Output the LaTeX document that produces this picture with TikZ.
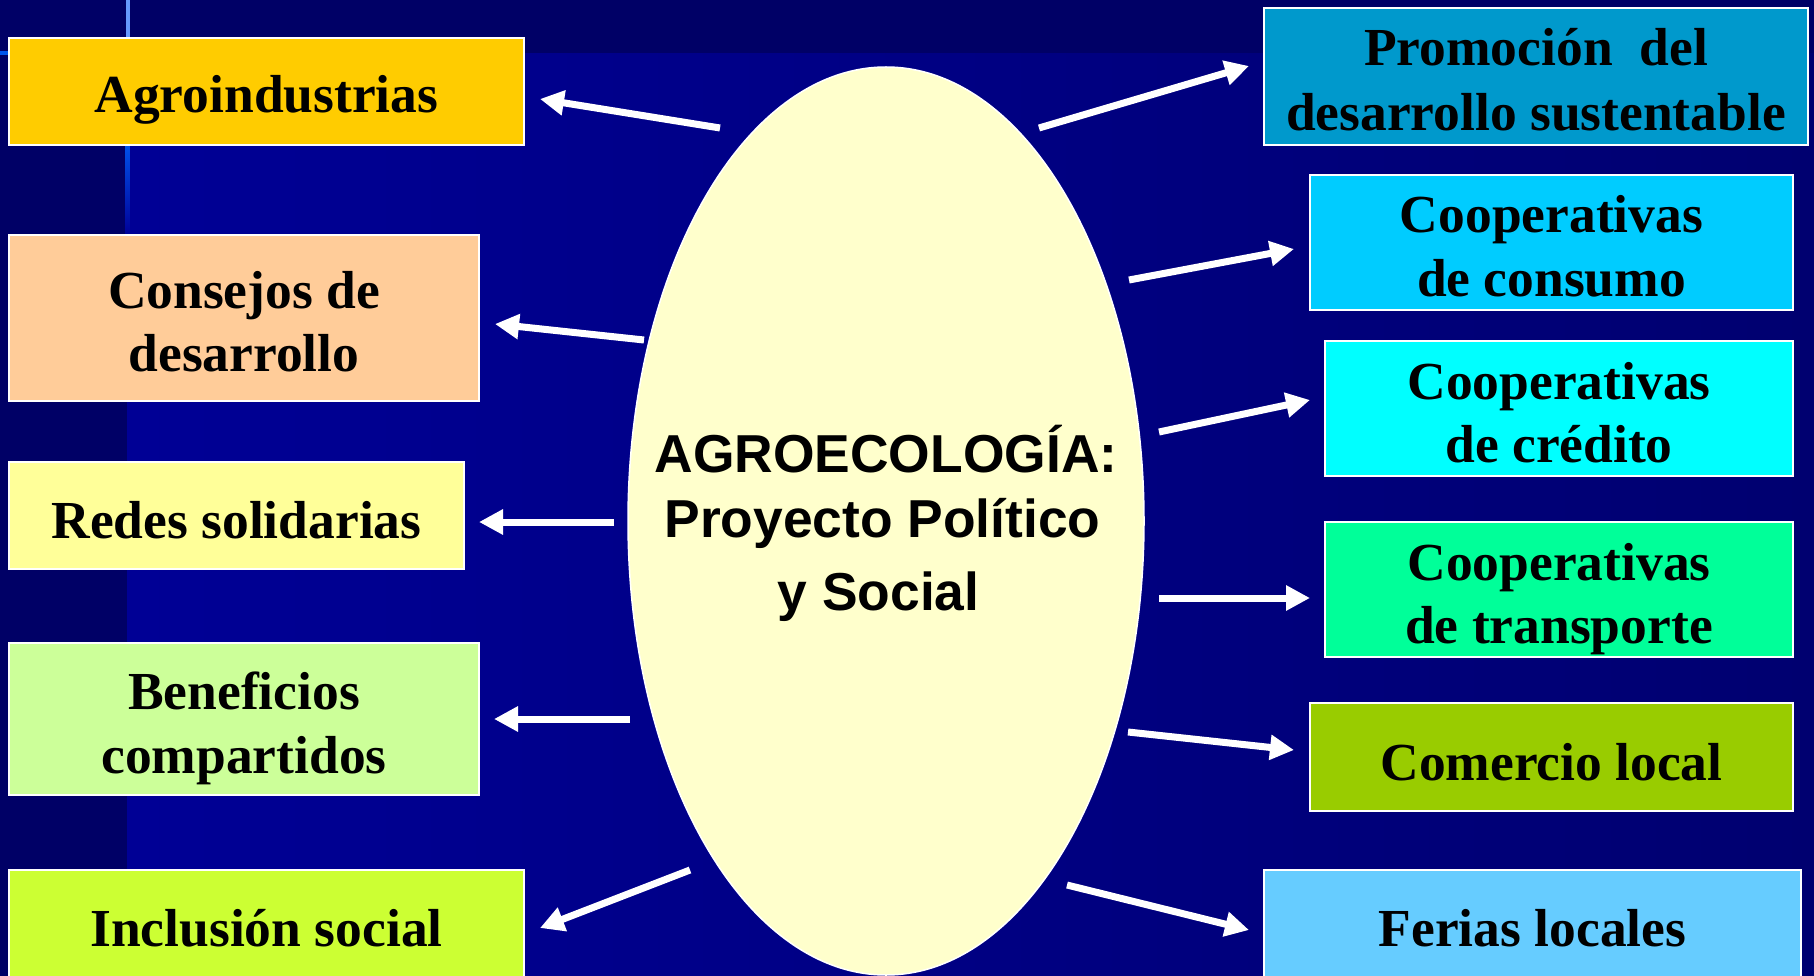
\documentclass[tikz,border=0pt]{standalone}
\usepackage{fontspec}
\setmainfont{Liberation Serif}
\newfontfamily\censans{Liberation Sans}
\usetikzlibrary{arrows.meta,shapes.geometric}
\definecolor{bgleft}{HTML}{000098}
\definecolor{bgright}{HTML}{000070}
\definecolor{bgdark}{HTML}{000066}
\definecolor{linelight}{HTML}{6699FF}
\definecolor{lineblue}{HTML}{0055EE}
\definecolor{cAgro}{HTML}{FFCC00}
\definecolor{cCons}{HTML}{FFCC99}
\definecolor{cRedes}{HTML}{FFFF99}
\definecolor{cBenef}{HTML}{CCFF99}
\definecolor{cIncl}{HTML}{CCFF33}
\definecolor{cProm}{HTML}{0099CC}
\definecolor{cConsu}{HTML}{00CCFF}
\definecolor{cCred}{HTML}{00FFFF}
\definecolor{cTrans}{HTML}{00FF99}
\definecolor{cCom}{HTML}{99CC00}
\definecolor{cFer}{HTML}{66CCFF}
\definecolor{cream}{HTML}{FFFFCC}
\begin{document}
\begin{tikzpicture}[x=1pt,y=-1pt,
  boxst/.style={draw=white, line width=2pt, inner sep=0pt, rectangle},
  boxtxt/.style={font=\fontsize{53.5}{63}\selectfont\bfseries, inner sep=0pt, anchor=base, text=black},
  coretxt/.style={font=\fontsize{53.4}{63}\selectfont\censans\bfseries, inner sep=0pt, anchor=base, text=black},
  arr/.style={draw=white, line width=7pt, -{Triangle[length=24pt,width=24pt]}}]
\useasboundingbox (0,0) rectangle (1814,976);
% background
\shade[left color=bgleft, right color=bgright] (0,0) rectangle (1814,976);
\fill[bgdark] (0,0) rectangle (1814,53);
\fill[bgdark] (0,53) rectangle (127,976);
\fill[linelight] (125.5,0) rectangle (129.5,40);
\shade[top color=lineblue, bottom color=bgleft] (125.5,140) rectangle (129.5,235);
\fill[lineblue] (0,51) rectangle (10,55);
% central ellipse
\node[ellipse, draw=white, line width=1.5pt, fill=cream, inner sep=0pt,
      minimum width=516pt, minimum height=908pt] (core) at (886,521) {};
\node[coretxt] (core1) at (886,472) {AGROECOLOGÍA:};
\node[coretxt] (core2) at (882.5,537) {Proyecto Político};
\node[coretxt] (core3) at (878.5,610) {y Social};
% left boxes
\node[boxst, fill=cAgro, minimum width=515pt, minimum height=107pt] (agro) at (266.5,91.5) {};
\node[boxtxt] (agroT) at (266.5,113) {Agroindustrias};
\node[boxst, fill=cCons, minimum width=470pt, minimum height=166pt] (cons) at (244,318) {};
\node[boxtxt] (consT1) at (244,308) {Consejos de};
\node[boxtxt] (consT2) at (244,371) {desarrollo};
\node[boxst, fill=cRedes, minimum width=455pt, minimum height=107pt] (redes) at (236.5,515.5) {};
\node[boxtxt] (redesT) at (236.5,538) {Redes solidarias};
\node[boxst, fill=cBenef, minimum width=470pt, minimum height=152pt] (benef) at (244,719) {};
\node[boxtxt] (benefT1) at (244,709) {Beneficios};
\node[boxtxt] (benefT2) at (244,773) {compartidos};
\node[boxst, fill=cIncl, minimum width=515pt, minimum height=107pt] (incl) at (266.5,923.5) {};
\node[boxtxt] (inclT) at (266.5,946) {Inclusión social};
% right boxes
\node[boxst, fill=cProm, minimum width=544pt, minimum height=137pt] (prom) at (1536,76.5) {};
\node[boxtxt] (promT1) at (1536,66) {Promoción\ \ del};
\node[boxtxt] (promT2) at (1536,131) {desarrollo sustentable};
\node[boxst, fill=cConsu, minimum width=483pt, minimum height=135pt] (consu) at (1551.5,242.5) {};
\node[boxtxt] (consuT1) at (1551.5,233) {Cooperativas};
\node[boxtxt] (consuT2) at (1551.5,296) {de consumo};
\node[boxst, fill=cCred, minimum width=468pt, minimum height=135pt] (cred) at (1559,408.5) {};
\node[boxtxt] (credT1) at (1559,399) {Cooperativas};
\node[boxtxt] (credT2) at (1559,462) {de crédito};
\node[boxst, fill=cTrans, minimum width=468pt, minimum height=135pt] (trans) at (1559,589.5) {};
\node[boxtxt] (transT1) at (1559,580) {Cooperativas};
\node[boxtxt] (transT2) at (1559,643) {de transporte};
\node[boxst, fill=cCom, minimum width=483pt, minimum height=108pt] (com) at (1551.5,757) {};
\node[boxtxt] (comT) at (1551.5,780) {Comercio local};
\node[boxst, fill=cFer, minimum width=537pt, minimum height=107pt] (fer) at (1532.5,923.5) {};
\node[boxtxt] (ferT) at (1532.5,946) {Ferias locales};
% arrow end points
\coordinate (s1) at (720,128);  \coordinate (e1) at (540,99);
\coordinate (s2) at (644,340);  \coordinate (e2) at (495,324);
\coordinate (s3) at (614,522);  \coordinate (e3) at (479,522);
\coordinate (s4) at (630,719);  \coordinate (e4) at (494,719);
\coordinate (s5) at (690,870);  \coordinate (e5) at (540,928);
\coordinate (s6) at (1039,128); \coordinate (e6) at (1249,66);
\coordinate (s7) at (1129,280); \coordinate (e7) at (1294,249);
\coordinate (s8) at (1159,432); \coordinate (e8) at (1310,400);
\coordinate (s9) at (1159,598); \coordinate (e9) at (1310,598);
\coordinate (s10) at (1128,732); \coordinate (e10) at (1294,750);
\coordinate (s11) at (1067,885); \coordinate (e11) at (1249,930);
\foreach \i in {1,...,11} { \draw[arr] (s\i) -- (e\i); }
\end{tikzpicture}
\end{document}
